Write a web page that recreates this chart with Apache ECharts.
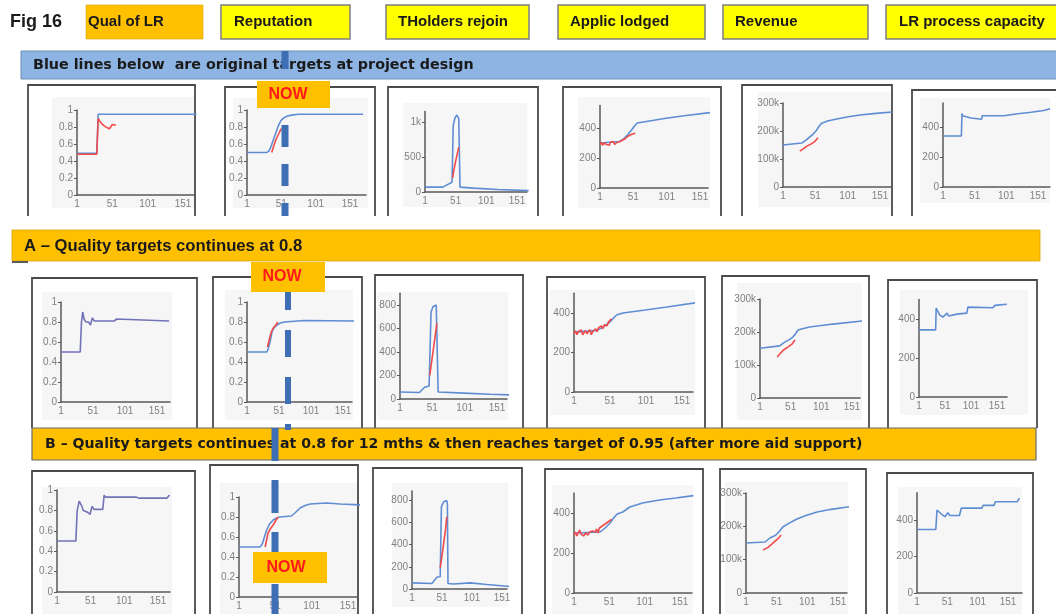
<!DOCTYPE html>
<html><head><meta charset="utf-8">
<script src="https://cdn.jsdelivr.net/npm/echarts@6/dist/echarts.min.js"></script>
<style>html,body{margin:0;padding:0;background:#fff}#c{width:1056px;height:614px}</style>
</head><body><div id="c"></div>
<script>
// ---------- texts ----------
const FIG_LABEL = 'Fig 16';
const HEADERS = ['Qual of LR', 'Reputation', 'THolders rejoin', 'Applic lodged', 'Revenue', 'LR process capacity'];
const BANNER_TOP = 'Blue lines below  are original targets at project design';
const BANNER_A = 'A \u2013 Quality targets continues at 0.8';
const BANNER_B = 'B \u2013 Quality targets continues at 0.8 for 12 mths & then reaches target of 0.95 (after more aid support)';
const NOW_LABEL = 'NOW';

// ---------- tick labels ----------
const X_LABELS = [1, 51, 101, 151];
const Q_TICKS = [0, 0.2, 0.4, 0.6, 0.8, 1];
const TH1_TICKS = [0, 500, 1000];
const TH_TICKS = [0, 200, 400, 600, 800];
const AP_TICKS = [0, 200, 400];
const REV_TICKS = [0, 100, 200, 300];   // thousands
const CAP_TICKS = [0, 200, 400];

// ---------- row 1 : original targets ----------
const qual1Blue = [[1,0.49],[29,0.49],[31,0.95],[170,0.95]];
const qual1Red = [[1,0.48],[29,0.48],[31,0.9],[34,0.86],[37,0.83],[40,0.81],[44,0.79],[47,0.78],[49,0.77],[51,0.83],[53,0.81],[56,0.82]];
const rep1Blue = [[1,0.5],[30,0.5],[33,0.52],[36,0.57],[39,0.64],[42,0.71],[45,0.78],[48,0.84],[51,0.88],[55,0.91],[60,0.93],[66,0.94],[76,0.95],[170,0.95]];
const rep1Red = [[37,0.5],[40,0.58],[43,0.65],[46,0.7],[49,0.75],[51,0.78]];
const thold1Blue = [[1,70],[30,70],[45,140],[46,500],[47,950],[50,1060],[53,1100],[56,1050],[57,600],[58,70],[80,55],[120,35],[170,20]];
const thold1Red = [[46,200],[48,310],[50,400],[52,480],[54,560],[56,640]];
const applic1Blue = [[1,300],[30,310],[36,325],[42,353],[48,385],[53,415],[57,433],[60,437],[100,465],[130,483],[170,505]];
const applic1Red = [[1,290],[3,305],[5,285],[7,300],[9,310],[11,290],[13,300],[15,285],[17,305],[19,295],[21,310],[23,290],[25,300],[27,305],[29,295],[31,310],[33,300],[35,320],[37,310],[39,330],[41,325],[43,345],[45,335],[47,355],[49,350],[51,362],[54,365]];
const rev1Blue = [[1,150],[30,157],[37,168],[43,180],[48,190],[53,203],[57,218],[61,228],[70,236],[84,243],[100,250],[120,257],[145,263],[170,268]];
const rev1Red = [[27,128],[30,132],[33,137],[36,140],[38,146],[41,150],[44,153],[47,157],[50,162],[53,168],[55,176]];
const cap1Blue = [[1,340],[30,340],[31,490],[32,475],[34,465],[45,460],[62,452],[63,475],[97,475],[98,488],[119,488],[120,498],[140,498],[142,510],[160,510],[162,520],[170,522]];

// ---------- row 2 : scenario A ----------
const qualABlue = [[1,0.5],[31,0.5],[33,0.8],[35,0.9],[37,0.83],[40,0.8],[44,0.8],[47,0.77],[50,0.84],[53,0.81],[84,0.81],[88,0.83],[91,0.81],[170,0.81]];
const repABlue = [[1,0.5],[32,0.5],[34,0.53],[37,0.6],[40,0.7],[43,0.74],[48,0.77],[53,0.79],[60,0.8],[90,0.815],[170,0.81]];
const repARed = [[33,0.55],[36,0.63],[39,0.7],[42,0.74],[46,0.77],[49,0.8]];
const tholdABlue = [[1,60],[31,55],[39,100],[46,110],[48,110],[49,740],[52,785],[57,800],[59,790],[60,60],[100,50],[140,40],[170,35]];
const tholdARed = [[47,200],[50,320],[53,440],[56,560],[58,645]];
const applicABlue = [[1,303],[33,312],[42,330],[51,355],[56,375],[60,390],[69,400],[100,415],[130,430],[170,452]];
const applicARed = [[1,295],[3,310],[5,290],[7,305],[9,295],[11,315],[13,290],[15,300],[17,310],[19,295],[21,300],[23,315],[25,290],[27,305],[29,300],[31,320],[33,305],[35,325],[37,315],[39,335],[41,320],[43,340],[45,345],[47,335],[49,355],[51,350],[53,370]];
const revABlue = [[1,151],[33,158],[38,165],[42,170],[48,176],[53,182],[58,192],[63,206],[70,210],[82,215],[120,224],[170,234]];
const revARed = [[29,124],[32,130],[35,137],[39,145],[43,150],[47,155],[50,158],[54,165],[58,176]];
const capABlue = [[1,344],[33,344],[34,456],[37,440],[41,420],[47,410],[51,420],[55,430],[58,415],[61,412],[74,425],[93,430],[95,461],[143,458],[147,470],[170,476]];

// ---------- row 3 : scenario B ----------
const qualBBlue = [[1,0.5],[29,0.5],[31,0.8],[34,0.89],[38,0.84],[40,0.8],[44,0.79],[47,0.78],[50,0.76],[53,0.84],[56,0.81],[69,0.81],[71,0.95],[73,0.93],[119,0.93],[122,0.92],[164,0.92],[168,0.95]];
const repBBlue = [[1,0.5],[30,0.5],[33,0.53],[36,0.6],[39,0.67],[43,0.73],[48,0.77],[53,0.79],[57,0.8],[73,0.81],[78,0.84],[85,0.89],[92,0.915],[99,0.93],[110,0.935],[122,0.94],[140,0.93],[170,0.92]];
const repBRed = [[37,0.5],[41,0.64],[44,0.68],[48,0.72],[52,0.77],[55,0.8]];
const tholdBBlue = [[1,55],[34,50],[43,108],[48,110],[50,740],[54,785],[59,795],[60,760],[61,50],[70,45],[98,55],[126,40],[159,25],[170,20]];
const tholdBRed = [[48,190],[51,300],[54,420],[57,540],[59,650]];
const applicBBlue = [[1,300],[38,305],[45,325],[52,350],[57,375],[62,395],[70,405],[80,430],[98,450],[122,465],[145,475],[170,487]];
const applicBRed = [[1,290],[3,305],[5,285],[7,300],[9,315],[11,295],[13,305],[15,285],[17,300],[19,310],[21,290],[23,305],[25,295],[27,310],[29,300],[31,305],[33,320],[35,300],[37,325],[39,315],[41,335],[43,330],[45,345],[47,340],[49,355],[51,360],[54,368]];
const revBBlue = [[1,150],[32,153],[40,165],[46,170],[51,176],[56,186],[61,198],[70,208],[84,222],[100,233],[117,243],[140,251],[170,259]];
const revBRed = [[29,129],[33,133],[37,137],[40,140],[44,148],[48,155],[51,159],[55,166],[58,174]];
const capBBlue = [[1,348],[32,348],[34,455],[37,445],[42,430],[47,418],[50,415],[52,440],[55,425],[58,420],[71,425],[74,465],[108,465],[110,480],[128,480],[130,500],[166,500],[170,520]];

// ---------- styles ----------
const BLUE = '#5f8dd3', RED = '#f04a4a', PURPLE = '#7273b6';
const AXIS = '#595959', LABEL = '#808080', FRAME = '#4a4a4a', PLOTBG = '#f6f6f6';
const DASH = '#3e6fb4', ORANGE = '#ffc000', YELLOW = '#ffff00', SKY = '#8db4e2';

const fmtPlain = v => String(v);
const fmtK1 = v => v >= 1000 ? (v / 1000) + 'k' : String(v);
const fmtK = v => v === 0 ? '0' : v + 'k';

// layout of each small chart (pixel positions)
const charts = [
  {L:77, X151:183, R:195, Y0:195, Yt:110, t:1, yMax:1, ticks:Q_TICKS, fmt:fmtPlain, bg:[52,97,195,208], frame:[28,85,195,216], s:[[qual1Blue,BLUE],[qual1Red,RED]]},
  {L:247, X151:350, R:366, Y0:195, Yt:110, t:1, yMax:1, ticks:Q_TICKS, fmt:fmtPlain, bg:[233,98,368,208], frame:[225,87,375,216], s:[[rep1Blue,BLUE],[rep1Red,RED]]},
  {L:425, X151:517, R:527, Y0:192, Yt:122, t:1000, yMax:1150, ticks:TH1_TICKS, fmt:fmtK1, bg:[403,103,527,207], frame:[388,87,538,216], s:[[thold1Blue,BLUE],[thold1Red,RED]]},
  {L:600, X151:700, R:708, Y0:188, Yt:128, t:400, yMax:550, ticks:AP_TICKS, fmt:fmtPlain, bg:[578,97,710,208], frame:[563,87,721,216], s:[[applic1Blue,BLUE],[applic1Red,RED]]},
  {L:783, X151:880, R:892, Y0:187, Yt:103, t:300, yMax:300, ticks:REV_TICKS, fmt:fmtK, bg:[758,92,892,207], frame:[742,85,892,216], s:[[rev1Blue,BLUE],[rev1Red,RED]]},
  {L:943, X151:1038, R:1050, Y0:187, Yt:127, t:400, yMax:560, ticks:CAP_TICKS, fmt:fmtPlain, bg:[920,98,1050,203], frame:[912,90,1062,216], s:[[cap1Blue,BLUE]]},

  {L:61, X151:157, R:170, Y0:402, Yt:302, t:1, yMax:1, ticks:Q_TICKS, fmt:fmtPlain, bg:[42,292,172,420], frame:[32,278,197,428], s:[[qualABlue,PURPLE]]},
  {L:247, X151:343, R:352, Y0:402, Yt:302, t:1, yMax:1, ticks:Q_TICKS, fmt:fmtPlain, bg:[225,290,353,420], frame:[213,277,362,428], s:[[repABlue,BLUE],[repARed,RED]]},
  {L:400, X151:497, R:507, Y0:399, Yt:305, t:800, yMax:900, ticks:TH_TICKS, fmt:fmtPlain, bg:[377,292,508,420], frame:[375,275,523,428], s:[[tholdABlue,BLUE],[tholdARed,RED]]},
  {L:574, X151:682, R:693, Y0:392, Yt:313, t:400, yMax:500, ticks:AP_TICKS, fmt:fmtPlain, bg:[550,290,695,415], frame:[547,277,705,428], s:[[applicABlue,BLUE],[applicARed,RED]]},
  {L:760, X151:852, R:860, Y0:398, Yt:299, t:300, yMax:300, ticks:REV_TICKS, fmt:fmtK, bg:[737,283,862,420], frame:[722,276,869,428], s:[[revABlue,BLUE],[revARed,RED]]},
  {L:919, X151:997, R:1007, Y0:397, Yt:319, t:400, yMax:500, ticks:CAP_TICKS, fmt:fmtPlain, bg:[900,290,1028,415], frame:[888,280,1037,428], s:[[capABlue,BLUE]]},

  {L:57, X151:158, R:170, Y0:592, Yt:490, t:1, yMax:1, ticks:Q_TICKS, fmt:fmtPlain, bg:[42,487,172,614], frame:[32,471,195,616], s:[[qualBBlue,PURPLE]]},
  {L:239, X151:348, R:358, Y0:597, Yt:497, t:1, yMax:1, ticks:Q_TICKS, fmt:fmtPlain, bg:[220,483,358,614], frame:[210,465,358,616], s:[[repBBlue,BLUE],[repBRed,RED]]},
  {L:412, X151:502, R:507, Y0:589, Yt:500, t:800, yMax:880, ticks:TH_TICKS, fmt:fmtPlain, bg:[392,483,508,607], frame:[373,468,522,616], s:[[tholdBBlue,BLUE],[tholdBRed,RED]]},
  {L:574, X151:680, R:692, Y0:593, Yt:513, t:400, yMax:500, ticks:AP_TICKS, fmt:fmtPlain, bg:[552,485,693,614], frame:[545,469,703,616], s:[[applicBBlue,BLUE],[applicBRed,RED]]},
  {L:746, X151:838, R:847, Y0:593, Yt:493, t:300, yMax:300, ticks:REV_TICKS, fmt:fmtK, bg:[725,482,848,614], frame:[720,469,866,616], s:[[revBBlue,BLUE],[revBRed,RED]]},
  {L:917, X151:1008, R:1022, Y0:593, Yt:520, t:400, yMax:550, ticks:CAP_TICKS, fmt:fmtPlain, bg:[898,487,1022,614], frame:[887,473,1033,616], s:[[capBBlue,BLUE]]}
];

const grid = [], xAxis = [], yAxis = [], series = [], elements = [];

charts.forEach((c, i) => {
  const sx = (c.X151 - c.L) / 150;
  const xMax = 1 + (c.R - c.L) / sx;
  const sy = (c.Y0 - c.Yt) / c.t;
  const top = c.Y0 - c.yMax * sy;
  grid.push({left: c.L, top: top, width: c.R - c.L, height: c.Y0 - top, outerBoundsMode: 'none', containLabel: false});
  xAxis.push({
    type: 'value', gridIndex: i, min: 1, max: xMax, interval: 50,
    axisLine: {lineStyle: {color: AXIS, width: 1.5}},
    axisTick: {show: false},
    splitLine: {show: false},
    axisLabel: {customValues: X_LABELS, color: LABEL, fontSize: 10, fontFamily: 'Liberation Sans', margin: 4}
  });
  yAxis.push({
    type: 'value', gridIndex: i, min: 0, max: c.yMax, interval: c.ticks[1],
    axisLine: {show: true, lineStyle: {color: AXIS, width: 1.5}},
    axisTick: {show: true, length: 3, customValues: c.ticks, lineStyle: {color: AXIS}},
    splitLine: {show: false},
    axisLabel: {customValues: c.ticks, formatter: c.fmt, color: LABEL, fontSize: 10, fontFamily: 'Liberation Sans', margin: 4}
  });
  c.s.forEach(([data, color]) => {
    series.push({type: 'line', xAxisIndex: i, yAxisIndex: i, data: data, showSymbol: false, symbol: 'none', smooth: false,
      lineStyle: {color: color, width: 1.6}, itemStyle: {color: color}, z: 3, silent: true, animation: false});
  });
  const b = c.bg;
  elements.push({type: 'rect', z: -10, shape: {x: b[0], y: b[1], width: b[2] - b[0], height: b[3] - b[1]}, style: {fill: PLOTBG}});
  const f = c.frame;
  elements.push({type: 'polyline', z: -9, shape: {points: [[f[0], f[3]], [f[0], f[1]], [f[2], f[1]], [f[2], f[3]]]}, style: {stroke: FRAME, lineWidth: 1.8, fill: null}});
});

// header
elements.push({type: 'text', z: 20, style: {text: FIG_LABEL, x: 10, y: 22, verticalAlign: 'middle', font: 'bold 18px "Liberation Sans"', fill: '#1a1a1a'}});
const headerBoxes = [[86,203,88,ORANGE],[221,350,234,YELLOW],[386,529,398,YELLOW],[558,705,570,YELLOW],[723,868,735,YELLOW],[886,1062,899,YELLOW]];
headerBoxes.forEach(([x1, x2, tx, fill], k) => {
  elements.push({type: 'rect', z: 10, shape: {x: x1, y: 5, width: x2 - x1, height: 34},
    style: {fill: fill, stroke: k === 0 ? '#d9a400' : '#7f7f7f', lineWidth: k === 0 ? 0.6 : 1.5}});
  elements.push({type: 'text', z: 11, style: {text: HEADERS[k], x: tx, y: 22, verticalAlign: 'middle', font: 'bold 15px "Liberation Sans"', fill: '#1a1a1a'}});
});

// banners
elements.push({type: 'rect', z: -5, shape: {x: 21, y: 51, width: 1045, height: 28}, style: {fill: SKY, stroke: '#6f8fb5', lineWidth: 1}});
elements.push({type: 'text', z: -4, style: {text: BANNER_TOP, x: 33, y: 65, verticalAlign: 'middle', font: 'bold 14.3px "DejaVu Sans"', fill: '#1a1a1a'}});
elements.push({type: 'rect', z: -5, shape: {x: 12, y: 230, width: 1028, height: 31}, style: {fill: ORANGE, stroke: '#d9a400', lineWidth: 0.8}});
elements.push({type: 'rect', z: -5, shape: {x: 12, y: 261, width: 16, height: 2}, style: {fill: '#5a5a5a'}});
elements.push({type: 'text', z: -4, style: {text: BANNER_A, x: 24, y: 246, verticalAlign: 'middle', font: 'bold 16.7px "Liberation Sans"', fill: '#1a1a1a'}});
elements.push({type: 'rect', z: -5, shape: {x: 32, y: 428, width: 1004, height: 32}, style: {fill: ORANGE, stroke: '#6b6b6b', lineWidth: 1.2}});
elements.push({type: 'text', z: -4, style: {text: BANNER_B, x: 45, y: 444, verticalAlign: 'middle', font: 'bold 14.1px "DejaVu Sans"', fill: '#1a1a1a'}});

// dashed "now" lines and NOW boxes
const nowLines = [[285, 51, 216, 7, [22, 17], 4], [288, 283, 430, 6, [27, 20], 0], [275, 428, 614, 7, [33, 19], 0]];
nowLines.forEach(([x, y1, y2, w, dash, off]) => {
  elements.push({type: 'line', z: 50, shape: {x1: x, y1: y1, x2: x, y2: y2}, style: {stroke: DASH, lineWidth: w, lineDash: dash, lineDashOffset: off}});
});
const nowBoxes = [[257, 81, 73, 27, 288, 95], [251, 262, 74, 30, 282, 277], [253, 552, 74, 31, 286, 568]];
nowBoxes.forEach(([x, y, w, h, tx, ty]) => {
  elements.push({type: 'rect', z: 60, shape: {x: x, y: y, width: w, height: h}, style: {fill: ORANGE}});
  elements.push({type: 'text', z: 61, style: {text: NOW_LABEL, x: tx, y: ty, align: 'center', verticalAlign: 'middle', font: 'bold 16px "Liberation Sans"', fill: '#ff1a1a'}});
});

const chart = echarts.init(document.getElementById('c'), null, {renderer: 'canvas'});
chart.setOption({
  animation: false,
  backgroundColor: '#ffffff',
  grid: grid, xAxis: xAxis, yAxis: yAxis, series: series,
  graphic: {elements: elements}
});
</script></body></html>
